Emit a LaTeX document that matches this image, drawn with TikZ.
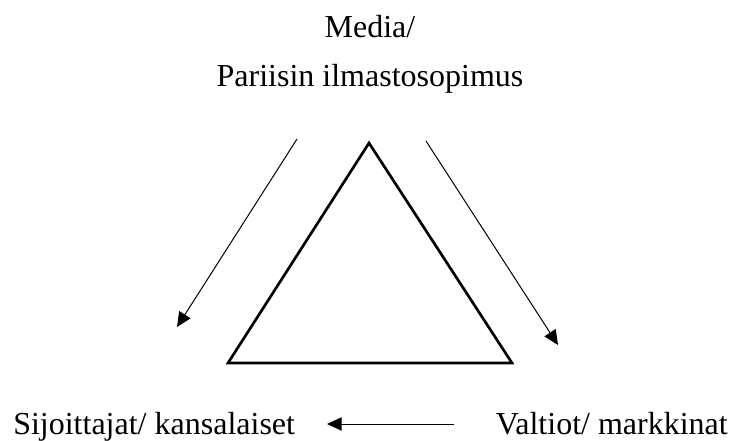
\documentclass[tikz,border=0pt]{standalone}
\usepackage{fontspec}
\setmainfont{Liberation Serif}
\usetikzlibrary{arrows.meta}

\tikzset{
	lbl/.style = {anchor=base, inner sep=0pt, font=\fontsize{24}{29}\selectfont},
	flow/.style = {line width=0.75pt, -{Triangle[length=11pt,width=10pt]}},
}

\begin{document}
\begin{tikzpicture}[x=0.75pt, y=0.75pt]
		\useasboundingbox (0,0) rectangle (731,-440);
		% labels
		\node [lbl] (media) at (370,-37) {Media/};
		\node [lbl] (pariisi) at (370,-86) {Pariisin ilmastosopimus};
		\node [lbl, anchor=base west] (sijoittajat) at (13,-434) {Sijoittajat/ kansalaiset};
		\node [lbl, anchor=base east] (valtiot) at (728,-434) {Valtiot/ markkinat};

		% triangle
		\coordinate (top) at (369,-143);
		\coordinate (vasen) at (228,-363);
		\coordinate (oikea) at (512,-363);
		\draw [line width=2pt, line join=miter] (top) -- (vasen) -- (oikea) -- cycle;

		% arrows
		\coordinate (a1) at (297,-139);
		\coordinate (a2) at (177,-327);
		\coordinate (b1) at (426,-141);
		\coordinate (b2) at (558,-345);
		\coordinate (c1) at (454,-424);
		\coordinate (c2) at (327,-424);
		\draw [flow] (a1) -- (a2);
		\draw [flow] (b1) -- (b2);
		\draw [flow] (c1) -- (c2);
	\end{tikzpicture}
\end{document}
